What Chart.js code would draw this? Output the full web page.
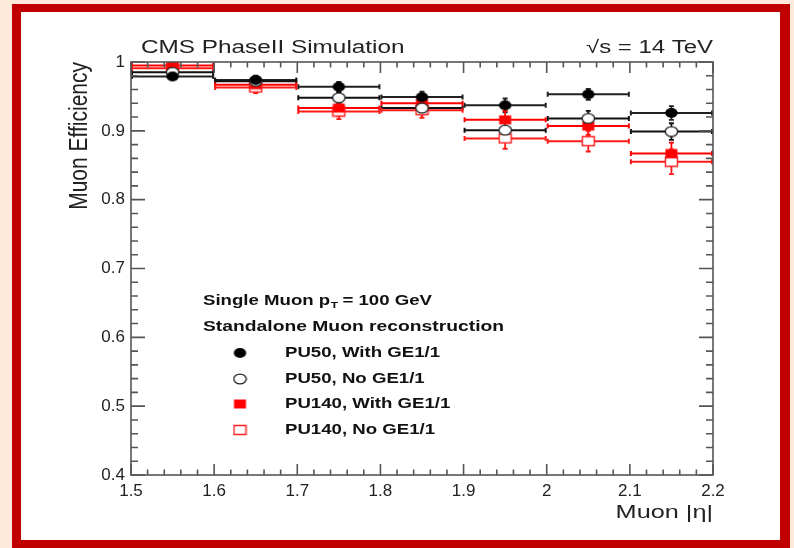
<!DOCTYPE html>
<html>
<head>
<meta charset="utf-8">
<script src="https://cdn.jsdelivr.net/npm/chart.js@4.4.0/dist/chart.umd.min.js"></script>
<style>
  body { margin: 0; width: 794px; height: 548px; overflow: hidden; background: #fdeadb; position: relative; }
  #frame { position: absolute; left: 12px; top: 4px; width: 778px; height: 544px; box-sizing: border-box;
           border-style: solid; border-color: #c00000; border-width: 8px 10px 8px 9px; background: #fff; }
  #chart { position: absolute; left: 0; top: 0; }
</style>
</head>
<body>
<div id="frame"></div>
<canvas id="chart" width="794" height="548"></canvas>
<script>
// muon |eta| bin centres, each bin is 0.1 wide
const etaCenters = [1.55, 1.65, 1.75, 1.85, 1.95, 2.05, 2.15];
const etaHalfWidth = 0.05;

const pu50With     = [0.979, 0.974, 0.964, 0.949, 0.937, 0.953, 0.926];
const pu50WithErr  = [0.004, 0.006, 0.007, 0.008, 0.010, 0.008, 0.010];
const pu50No       = [0.985, 0.972, 0.948, 0.933, 0.901, 0.918, 0.899];
const pu50NoErr    = [0.003, 0.006, 0.008, 0.009, 0.011, 0.011, 0.012];
const pu140With    = [0.995, 0.967, 0.933, 0.940, 0.916, 0.907, 0.867];
const pu140WithErr = [0.004, 0.007, 0.011, 0.010, 0.013, 0.013, 0.016];
const pu140No      = [0.991, 0.963, 0.928, 0.930, 0.889, 0.885, 0.855];
const pu140NoErr   = [0.005, 0.008, 0.011, 0.011, 0.015, 0.015, 0.018];

const seriesNames = ['PU50, With GE1/1', 'PU50, No GE1/1', 'PU140, With GE1/1', 'PU140, No GE1/1'];
const xRange = [1.5, 2.2];
const yRange = [0.4, 1.0];

const SX = 1.33; // the picture is stretched sideways a bit

function makeMarker(shape, color, filled) {
    let c = document.createElement('canvas');
    c.width = 15; c.height = 12;
    let g = c.getContext('2d');
    g.beginPath();
    if (shape == 'circle') g.ellipse(7.5, 6, 6.2, 4.9, 0, 0, Math.PI * 2);
    else g.rect(1.5, 1.5, 12, 9);
    g.fillStyle = filled ? color : '#fff';
    g.fill();
    if (!filled) { g.lineWidth = 1.4; g.strokeStyle = color; g.stroke(); }
    return c;
}
const markers = [
    makeMarker('circle', '#000', true),
    makeMarker('circle', '#222', false),
    makeMarker('rect', '#ff0000', true),
    makeMarker('rect', '#ff2020', false),
];

function points(vals) {
    return etaCenters.map((x, i) => ({ x: x, y: vals[i] }));
}

function series(i, vals, errs, color) {
    return {
        label: seriesNames[i],
        data: points(vals),
        yErr: errs,
        barColor: color,
        pointStyle: markers[i],
        pointRadius: 5,
        pointHoverRadius: 5,
        showLine: false,
    };
}

const errorBars = {
    id: 'errorBars',
    beforeDatasetsDraw(chart) {
        const ctx = chart.ctx, xs = chart.scales.x, ys = chart.scales.y;
        ctx.save();
        chart.data.datasets.forEach(ds => {
            ctx.strokeStyle = ds.barColor;
            ds.data.forEach((p, i) => {
                let x0 = xs.getPixelForValue(p.x - etaHalfWidth);
                let x1 = xs.getPixelForValue(p.x + etaHalfWidth);
                let xc = xs.getPixelForValue(p.x);
                let y = ys.getPixelForValue(p.y);
                let yt = ys.getPixelForValue(p.y + ds.yErr[i]);
                let yb = ys.getPixelForValue(p.y - ds.yErr[i]);
                ctx.lineWidth = 2;
                ctx.beginPath();
                ctx.moveTo(x0, y); ctx.lineTo(x1, y);
                ctx.moveTo(x0 + 1, y - 2.5); ctx.lineTo(x0 + 1, y + 2.5);
                ctx.moveTo(x1 - 1, y - 2.5); ctx.lineTo(x1 - 1, y + 2.5);
                ctx.stroke();
                ctx.lineWidth = 1.8;
                ctx.beginPath();
                ctx.moveTo(xc, yt); ctx.lineTo(xc, yb);
                ctx.moveTo(xc - 2.5, yt); ctx.lineTo(xc + 2.5, yt);
                ctx.moveTo(xc - 2.5, yb); ctx.lineTo(xc + 2.5, yb);
                ctx.stroke();
            });
        });
        ctx.restore();
    }
};

const frameTicks = {
    id: 'frameTicks',
    afterDraw(chart) {
        const ctx = chart.ctx, a = chart.chartArea, xs = chart.scales.x, ys = chart.scales.y;
        ctx.save();
        ctx.strokeStyle = '#555';
        ctx.lineWidth = 1.6;
        ctx.strokeRect(a.left, a.top, a.right - a.left, a.bottom - a.top);
        ctx.beginPath();
        for (let i = 0; i <= 35; i++) {
            let px = xs.getPixelForValue(xRange[0] + i * 0.02);
            let len = i % 5 == 0 ? 11 : 5.5;
            ctx.moveTo(px, a.bottom); ctx.lineTo(px, a.bottom - len);
            ctx.moveTo(px, a.top); ctx.lineTo(px, a.top + len);
        }
        for (let i = 0; i <= 30; i++) {
            let py = ys.getPixelForValue(yRange[0] + i * 0.02);
            let len = i % 5 == 0 ? 14 : 7;
            ctx.moveTo(a.left, py); ctx.lineTo(a.left + len, py);
            ctx.moveTo(a.right, py); ctx.lineTo(a.right - len, py);
        }
        ctx.stroke();
        ctx.restore();
    }
};

function wideText(ctx, txt, x, y, align, font) {
    ctx.save();
    ctx.font = font;
    ctx.translate(x, y);
    ctx.scale(SX, 1);
    ctx.textAlign = align;
    ctx.textBaseline = 'middle';
    ctx.fillText(txt, 0, 0);
    let w = ctx.measureText(txt).width * SX;
    ctx.restore();
    return w;
}

const labelsPlugin = {
    id: 'labelsPlugin',
    afterDraw(chart) {
        const ctx = chart.ctx, a = chart.chartArea;
        const fam = '"Liberation Sans", Arial, sans-serif';
        ctx.save();
        ctx.fillStyle = '#222';
        wideText(ctx, 'CMS PhaseII Simulation', 141, 48, 'left', '18.3px ' + fam);
        wideText(ctx, '\u221As = 14 TeV', a.right, 48, 'right', '18px ' + fam);
        wideText(ctx, 'Muon |\u03B7|', a.right, 513, 'right', '19px ' + fam);

        // y axis title, rotated
        ctx.save();
        ctx.font = '21px ' + fam;
        ctx.translate(80, a.top);
        ctx.scale(1.2, 1);
        ctx.rotate(-Math.PI / 2);
        ctx.textAlign = 'right';
        ctx.textBaseline = 'middle';
        ctx.fillText('Muon Efficiency', 0, 0);
        ctx.restore();

        // legend block
        ctx.fillStyle = '#111';
        const bold = 'bold 14px ' + fam;
        let w = wideText(ctx, 'Single Muon p', 203, 301, 'left', bold);
        wideText(ctx, 'T', 203 + w + 0.5, 306, 'left', 'bold 9px ' + fam);
        wideText(ctx, ' = 100 GeV', 203 + w + 7, 301, 'left', bold);
        wideText(ctx, 'Standalone Muon reconstruction', 203, 327, 'left', 'bold 14.5px ' + fam);
        const rows = [353, 379, 404, 430];
        chart.data.datasets.forEach((ds, i) => {
            let m = ds.pointStyle;
            ctx.drawImage(m, 240 - m.width / 2, rows[i] - m.height / 2);
            wideText(ctx, ds.label, 285, rows[i], 'left', bold);
        });
        ctx.restore();
    }
};

const tickFont = { family: '"Liberation Sans", Arial, sans-serif', size: 17 };
const fmt = v => String(Number(v.toFixed(2)));

new Chart(document.getElementById('chart').getContext('2d'), {
    type: 'scatter',
    data: {
        datasets: [
            series(0, pu50With, pu50WithErr, '#222'),
            series(1, pu50No, pu50NoErr, '#111'),
            series(2, pu140With, pu140WithErr, '#ff0000'),
            series(3, pu140No, pu140NoErr, '#ff1a1a'),
        ]
    },
    options: {
        responsive: false,
        devicePixelRatio: 1,
        animation: false,
        layout: { padding: { left: 0, top: 62, right: 81, bottom: 0 } },
        plugins: { legend: { display: false }, tooltip: { enabled: false } },
        scales: {
            x: {
                type: 'linear', min: xRange[0], max: xRange[1],
                grid: { display: false, drawTicks: false },
                border: { display: false },
                ticks: { stepSize: 0.1, padding: 6, color: '#222', font: tickFont, maxRotation: 0, callback: fmt },
                afterFit: s => { s.height = 73; },
            },
            y: {
                type: 'linear', min: yRange[0], max: yRange[1],
                grid: { display: false, drawTicks: false },
                border: { display: false },
                ticks: { stepSize: 0.1, padding: 6, color: '#222', font: tickFont, callback: fmt },
                afterFit: s => { s.width = 131; },
            }
        }
    },
    plugins: [errorBars, frameTicks, labelsPlugin]
});
</script>
</body>
</html>
